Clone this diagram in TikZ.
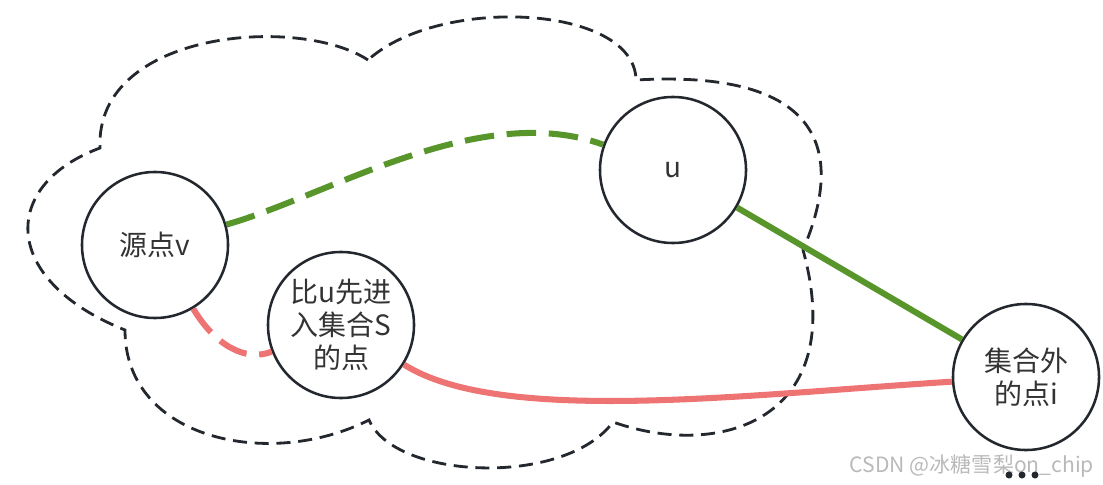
\documentclass[tikz,border=0pt]{standalone}
\usepackage{fontspec}
\setmainfont{Noto Sans CJK SC}
\definecolor{edgegreen}{HTML}{58962C}
\definecolor{edgered}{HTML}{EE7373}
\definecolor{inkdark}{HTML}{23272E}
\definecolor{txtgray}{HTML}{333333}
\tikzset{
  vertex/.style={circle, draw=inkdark, line width=1.8pt, minimum size=3.65cm, inner sep=0pt,
    align=center, text=txtgray, font=\fontsize{19.9}{23.5}\selectfont},
  cloudline/.style={draw=inkdark, line width=2pt, dash pattern=on 10pt off 5.5pt},
  greenpath/.style={draw=edgegreen, line width=4.3pt},
  redpath/.style={draw=edgered, line width=4.3pt},
  longdash/.style={dash pattern=on 21pt off 9pt}
}

\begin{document}
\begin{tikzpicture}[x=0.025cm, y=-0.025cm]
    \useasboundingbox (0,0) rectangle (1103,485);

    % Set S (cloud)
    \draw[cloudline] (368,60)
        .. controls (300,15) and (95,30) .. (100,148)
        .. controls (0,185) and (0,280) .. (125,330)
        .. controls (125,440) and (270,470) .. (369,420)
        .. controls (395,480) and (565,487) .. (613,422)
        .. controls (720,460) and (850,420) .. (803,250)
        .. controls (850,140) and (810,70) .. (636,80)
        .. controls (635,5) and (440,-5) .. (368,60);

    % Points
    \node[vertex] (v) at (155,245) {源点v};
    \node[vertex] (u) at (673,170) {u};
    \node[vertex] (s) at (341,325) {比u先进\\入集合S\\的点};
    \node[vertex] (i) at (1026,377) {集合外\\的点i};

    % Paths
    \draw[greenpath, longdash] (v) .. controls (330,195) and (480,100) .. (u);
    \draw[greenpath] (u) -- (i);
    \draw[redpath, longdash] (v) .. controls (215,345) and (245,362) .. (s);
    \draw[redpath] (s) .. controls (500,425) and (740,395) .. (i);

    % Watermark
    \node[anchor=base east, text=gray!55, font=\fontsize{15}{16}\selectfont] (mark) at (1099,472) {CSDN @冰糖雪梨on\_chip};
    \foreach \x in {1009,1022,1035}
        \fill[inkdark] (\x,475) circle (2.5pt);
\end{tikzpicture}
\end{document}
